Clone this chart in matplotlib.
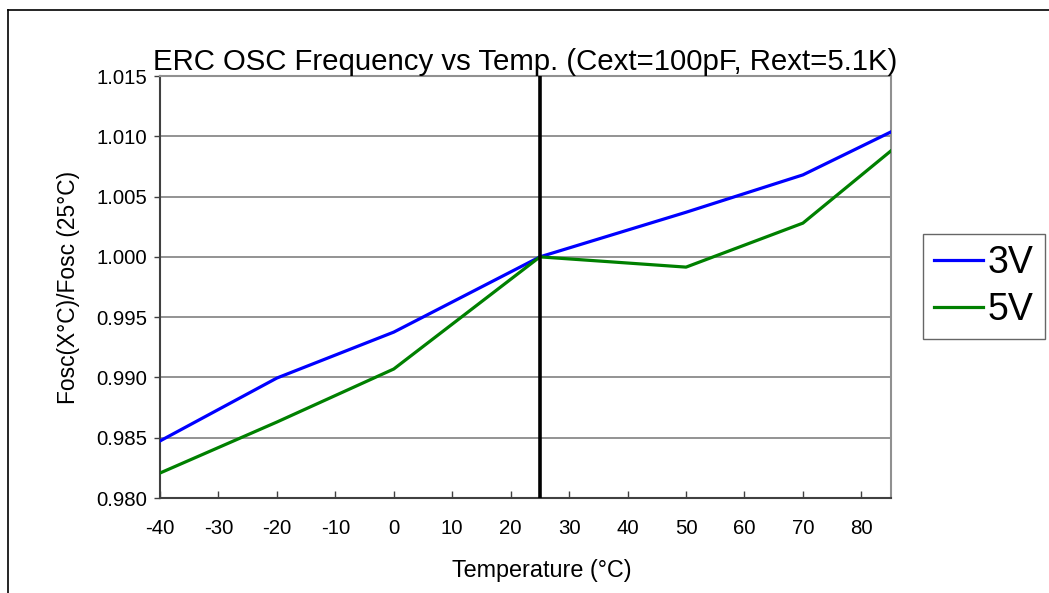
import matplotlib
matplotlib.use("Agg")
import matplotlib.pyplot as plt
from matplotlib.lines import Line2D

plt.rcParams['font.family'] = ['Liberation Sans', 'DejaVu Sans']
plt.rcParams['axes.unicode_minus'] = False

temps = [-40, -20, 0, 25, 50, 70, 85]
ratio_3v = [0.98473, 0.98995, 0.99376, 1.0000, 1.0037, 1.0068, 1.01035]
ratio_5v = [0.98207, 0.98630, 0.99070, 1.0000, 0.99915, 1.00280, 1.00877]
xticks = list(range(-40, 81, 10))
yticks = [0.980, 0.985, 0.990, 0.995, 1.000, 1.005, 1.010, 1.015]
ref_temp = 25

fig = plt.figure(figsize=(10.49, 5.93), dpi=100)
ax = fig.add_axes([0.1525, 0.1602, 0.6965, 0.7116])

for y in yticks[1:-1]:
    ax.axhline(y, color='#808080', lw=1.2, zorder=1)

ax.plot(temps, ratio_3v, color='#0000ff', lw=2.3, label='3V', zorder=3)
ax.plot(temps, ratio_5v, color='#008000', lw=2.3, label='5V', zorder=3)
ax.axvline(ref_temp, color='black', lw=2.6, zorder=4)

ax.set_xlim(-40, 85)
ax.set_ylim(0.980, 1.015)
ax.set_xticks(xticks)
ax.set_yticks(yticks)
ax.set_yticklabels([f'{v:.3f}' for v in yticks])
ax.tick_params(axis='x', direction='in', length=5, width=1, color='#404040',
               labelsize=14.7, pad=15)
ax.tick_params(axis='y', direction='out', length=4, width=1, color='#404040',
               labelsize=14.7, pad=5)

for side in ('left', 'bottom'):
    ax.spines[side].set_color('#404040')
    ax.spines[side].set_linewidth(1.5)
for side in ('top', 'right'):
    ax.spines[side].set_color('#909090')
    ax.spines[side].set_linewidth(1.5)

ax.set_title('ERC OSC Frequency vs Temp. (Cext=100pF, Rext=5.1K)',
             fontsize=21.2, pad=4)
ax.set_xlabel('Temperature (°C)', fontsize=16.8)
ax.xaxis.set_label_coords(0.5226, -0.145)
ax.set_ylabel('Fosc(X°C)/Fosc (25°C)', fontsize=16.4, labelpad=12)

leg = fig.legend(loc='upper left', bbox_to_anchor=(923 / 1049, 1 - 234 / 593),
                 fontsize=27, frameon=True, fancybox=False, borderpad=0.3,
                 handlelength=1.3, handletextpad=0.12, labelspacing=0.28,
                 borderaxespad=0)
leg.get_frame().set_edgecolor('#404040')
leg.get_frame().set_linewidth(1.0)

# outer frame, top and left edges only
fig.add_artist(Line2D([8 / 1049, 1.0], [1 - 10 / 593, 1 - 10 / 593],
                      transform=fig.transFigure, color='black', lw=1.2))
fig.add_artist(Line2D([8 / 1049, 8 / 1049], [0.0, 1 - 10 / 593],
                      transform=fig.transFigure, color='black', lw=1.2))

fig.savefig('out.png', dpi=100)
